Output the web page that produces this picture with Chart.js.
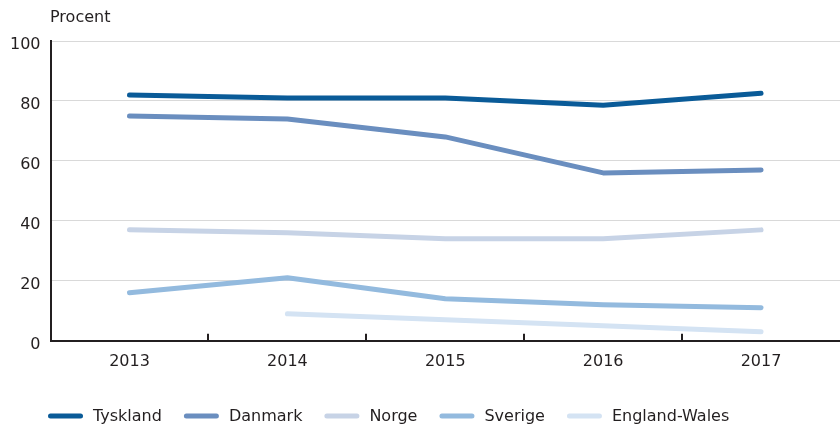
<!DOCTYPE html>
<html lang="sv">
<head>
<meta charset="UTF-8">
<title>Procent</title>
<script src="https://cdn.jsdelivr.net/npm/chart.js@4/dist/chart.umd.min.js"></script>
<style>
  html, body { margin: 0; padding: 0; background: #fff; }
  #wrap { width: 840px; height: 427px; }
</style>
</head>
<body>
<div id="wrap"><canvas id="chart" width="840" height="427"></canvas></div>
<script>
  const years = ['2013', '2014', '2015', '2016', '2017'];
  const tyskland = [82, 81, 81, 78.6, 82.6];
  const danmark = [75, 74, 68, 56, 57];
  const norge = [37, 36, 34, 34, 37];
  const sverige = [16, 21, 14, 12, 11];
  const englandWales = [null, 9, 7, 5, 3];
  const yTicks = [0, 20, 40, 60, 80, 100];

  const textColor = '#231f20';
  const fontFamily = '"DejaVu Sans", sans-serif';

  function line(label, data, color) {
    return {
      label: label,
      data: data,
      borderColor: color,
      backgroundColor: color,
      borderWidth: 5,
      borderCapStyle: 'round',
      borderJoinStyle: 'round',
      pointRadius: 0,
      tension: 0
    };
  }

  // extra bits: unit label, upward tick marks and the legend row
  const extras = {
    id: 'extras',
    afterDraw(chart) {
      const ctx = chart.ctx;
      const x = chart.scales.x;
      const area = chart.chartArea;
      ctx.save();

      ctx.fillStyle = textColor;
      ctx.font = '16px ' + fontFamily;
      ctx.textAlign = 'left';
      ctx.textBaseline = 'middle';
      ctx.fillText('Procent', 50, 18);

      ctx.strokeStyle = textColor;
      ctx.lineWidth = 2;
      for (let i = 1; i < years.length; i++) {
        const px = Math.round((x.getPixelForValue(i - 1) + x.getPixelForValue(i)) / 2);
        ctx.beginPath();
        ctx.moveTo(px, area.bottom);
        ctx.lineTo(px, area.bottom - 7);
        ctx.stroke();
      }

      let lx = 48;
      const ly = 416;
      chart.data.datasets.forEach(ds => {
        ctx.strokeStyle = ds.borderColor;
        ctx.lineWidth = 5;
        ctx.lineCap = 'round';
        ctx.beginPath();
        ctx.moveTo(lx + 2.5, ly);
        ctx.lineTo(lx + 32.5, ly);
        ctx.stroke();
        ctx.fillStyle = textColor;
        ctx.fillText(ds.label, lx + 45, ly + 1);
        lx += 45 + ctx.measureText(ds.label).width + 22;
      });
      ctx.restore();
    }
  };

  new Chart(document.getElementById('chart'), {
    type: 'line',
    data: {
      labels: years,
      datasets: [
        line('Tyskland', tyskland, '#0a5b98'),
        line('Danmark', danmark, '#6a8ebf'),
        line('Norge', norge, '#c7d3e6'),
        line('Sverige', sverige, '#93bade'),
        line('England-Wales', englandWales, '#d4e3f3')
      ]
    },
    options: {
      responsive: false,
      animation: false,
      layout: { padding: { top: 41, left: 0, right: -3, bottom: 45 } },
      plugins: {
        legend: { display: false },
        tooltip: { enabled: false }
      },
      scales: {
        x: {
          offset: true,
          grid: { display: false, drawTicks: false },
          border: { display: true, color: textColor, width: 2 },
          ticks: {
            color: textColor,
            padding: 11,
            font: { family: fontFamily, size: 16 }
          }
        },
        y: {
          min: 0,
          max: 100,
          afterBuildTicks(scale) { scale.ticks = yTicks.map(v => ({ value: v })); },
          grid: { color: '#d9d9d9', lineWidth: 1, drawTicks: false },
          border: { display: true, color: textColor, width: 2 },
          ticks: {
            color: textColor,
            padding: 10,
            labelOffset: 4,
            font: { family: fontFamily, size: 16 }
          }
        }
      }
    },
    plugins: [extras]
  });
</script>
</body>
</html>
